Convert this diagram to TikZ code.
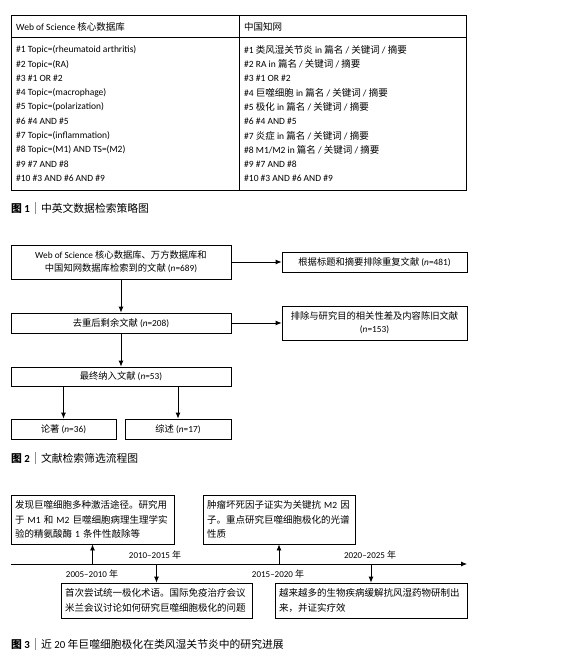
\documentclass[tikz,border=0pt]{standalone}
\usepackage{fontspec}
\setmainfont{Carlito}
\newfontfamily\cjk{Noto Sans CJK SC}
\usetikzlibrary{arrows.meta,positioning}
\definecolor{capbar}{RGB}{226,122,38}

% switch to the CJK font for Chinese characters
\XeTeXinterchartokenstate=1
\newXeTeXintercharclass\cjkclass
\newcount\cjkcnt
\def\setcjkrange#1#2{\cjkcnt=#1 \loop\XeTeXcharclass\cjkcnt=\cjkclass
  \ifnum\cjkcnt<#2 \advance\cjkcnt by 1 \repeat}
\setcjkrange{"3000}{"303F}
\setcjkrange{"4E00}{"9FFF}
\setcjkrange{"FF00}{"FFEF}
\newcommand\latfont{\fontfamily{\rmdefault}\selectfont}
\XeTeXinterchartoks 0 \cjkclass = {\cjk}
\XeTeXinterchartoks 4095 \cjkclass = {\cjk}
\XeTeXinterchartoks \cjkclass 0 = {\latfont}
\XeTeXinterchartoks \cjkclass 4095 = {\latfont}

\newcommand\capbar{\hspace{0.45em}\textcolor{capbar}{\rule[-0.15em]{1.4pt}{1.05em}}\hspace{0.45em}}

\begin{document}
\begin{tikzpicture}[x=1pt,y=-1pt,
  cell/.style={anchor=west,inner sep=0pt,font=\fontsize{9.5}{11}\selectfont},
  flow/.style={draw,line width=0.8pt,align=center,inner sep=2pt,
               font=\fontsize{9.3}{13}\selectfont},
  tbox/.style={draw,line width=0.8pt,align=left,inner sep=4pt,
               font=\fontsize{9.5}{14.5}\selectfont},
  lbl/.style={inner sep=0pt,font=\fontsize{9}{11}\selectfont},
  figcap/.style={anchor=west,inner sep=0pt,font=\fontsize{10.8}{13}\selectfont},
  arr/.style={-{Latex[length=6pt,width=5pt]},line width=0.8pt}
]
\useasboundingbox (0,0) rectangle (564,661);

% figure 1: search strategy table
\draw[line width=0.9pt] (11,15) rectangle (466,190);
\draw[line width=0.9pt] (11,37) -- (466,37);
\draw[line width=0.9pt] (239,15) -- (239,190);
\node[cell] (hwos) at (16,27) {Web of Science 核心数据库};
\node[cell] (hcnki) at (244,27) {中国知网};
\node[cell] (w1) at (16,50) {\#1 Topic=(rheumatoid arthritis)};
\node[cell] (w2) at (16,64.3) {\#2 Topic=(RA)};
\node[cell] (w3) at (16,78.6) {\#3 \#1 OR \#2};
\node[cell] (w4) at (16,92.9) {\#4 Topic=(macrophage)};
\node[cell] (w5) at (16,107.2) {\#5 Topic=(polarization)};
\node[cell] (w6) at (16,121.5) {\#6 \#4 AND \#5};
\node[cell] (w7) at (16,135.8) {\#7 Topic=(inflammation)};
\node[cell] (w8) at (16,150.1) {\#8 Topic=(M1) AND TS=(M2)};
\node[cell] (w9) at (16,164.4) {\#9 \#7 AND \#8};
\node[cell] (w10) at (16,178.7) {\#10 \#3 AND \#6 AND \#9};
\node[cell] (c1) at (244,50) {\#1 类风湿关节炎 in 篇名 / 关键词 / 摘要};
\node[cell] (c2) at (244,64.3) {\#2 RA in 篇名 / 关键词 / 摘要};
\node[cell] (c3) at (244,78.6) {\#3 \#1 OR \#2};
\node[cell] (c4) at (244,92.9) {\#4 巨噬细胞 in 篇名 / 关键词 / 摘要};
\node[cell] (c5) at (244,107.2) {\#5 极化 in 篇名 / 关键词 / 摘要};
\node[cell] (c6) at (244,121.5) {\#6 \#4 AND \#5};
\node[cell] (c7) at (244,135.8) {\#7 炎症 in 篇名 / 关键词 / 摘要};
\node[cell] (c8) at (244,150.1) {\#8 M1/M2 in 篇名 / 关键词 / 摘要};
\node[cell] (c9) at (244,164.4) {\#9 \#7 AND \#8};
\node[cell] (c10) at (244,178.7) {\#10 \#3 AND \#6 AND \#9};
\node[figcap] (cap1) at (11,208) {\textbf{图 1}\capbar 中英文数据检索策略图};

% figure 2: screening flow chart
\node[flow,minimum width=220pt,minimum height=34pt] (found) at (121,262)
  {Web of Science 核心数据库、万方数据库和\\中国知网数据库检索到的文献 (\textit{n}=689)};
\node[flow,minimum width=185pt,minimum height=20pt] (dup) at (374.5,262)
  {根据标题和摘要排除重复文献 (\textit{n}=481)};
\node[flow,minimum width=220pt,minimum height=20pt] (rest) at (121,323)
  {去重后剩余文献 (\textit{n}=208)};
\node[flow,minimum width=185pt,minimum height=34pt] (excl) at (374.5,323)
  {排除与研究目的相关性差及内容陈旧文献\\(\textit{n}=153)};
\node[flow,minimum width=220pt,minimum height=19pt] (final) at (121,376.5)
  {最终纳入文献 (\textit{n}=53)};
\node[flow,minimum width=105pt,minimum height=20pt] (orig) at (63.5,429)
  {论著 (\textit{n}=36)};
\node[flow,minimum width=106pt,minimum height=20pt] (rev) at (178,429)
  {综述 (\textit{n}=17)};
\draw[arr] (found) -- (dup);
\draw[arr] (rest) -- (excl);
\draw[arr] (found) -- (rest);
\draw[arr] (rest) -- (final);
\draw[arr] (final.south -| orig.north) -- (orig);
\draw[arr] (final.south -| rev.north) -- (rev);
\node[figcap] (cap2) at (11,458) {\textbf{图 2}\capbar 文献检索筛选流程图};

% figure 3: timeline
\coordinate (axl) at (11,564);
\coordinate (axr) at (467,564);
\draw[arr] (axl) -- (axr);
\node[tbox,minimum width=163pt,minimum height=49pt,text width=155pt] (ea) at (92.5,519.5)
  {发现巨噬细胞多种激活途径。研究用\\于 M1 和 M2 巨噬细胞病理生理学实\\验的精氨酸酶 1 条件性敲除等};
\node[tbox,minimum width=152pt,minimum height=49pt,text width=144pt] (eb) at (279,519.5)
  {肿瘤坏死因子证实为关键抗 M2 因\\子。重点研究巨噬细胞极化的光谱\\性质};
\node[tbox,minimum width=191pt,minimum height=35pt,text width=183pt] (ec) at (156.5,600.5)
  {首次尝试统一极化术语。国际免疫治疗会议\\米兰会议讨论如何研究巨噬细胞极化的问题};
\node[tbox,minimum width=192pt,minimum height=35pt,text width=184pt] (ed) at (371,600.5)
  {越来越多的生物疾病缓解抗风湿药物研制出\\来，并证实疗效};
\draw[arr] (ea.south |- axl) -- (ea);
\draw[arr] (eb.south |- axl) -- (eb);
\draw[arr] (ec.north |- axl) -- (ec);
\draw[arr] (ed.north |- axl) -- (ed);
\node[lbl] (y1) at (92,574) {2005–2010 年};
\node[lbl] (y2) at (155,555.5) {2010–2015 年};
\node[lbl] (y3) at (278,574) {2015–2020 年};
\node[lbl] (y4) at (370,555.5) {2020–2025 年};
\node[figcap] (cap3) at (11,644) {\textbf{图 3}\capbar 近 20 年巨噬细胞极化在类风湿关节炎中的研究进展};
\end{tikzpicture}
\end{document}
